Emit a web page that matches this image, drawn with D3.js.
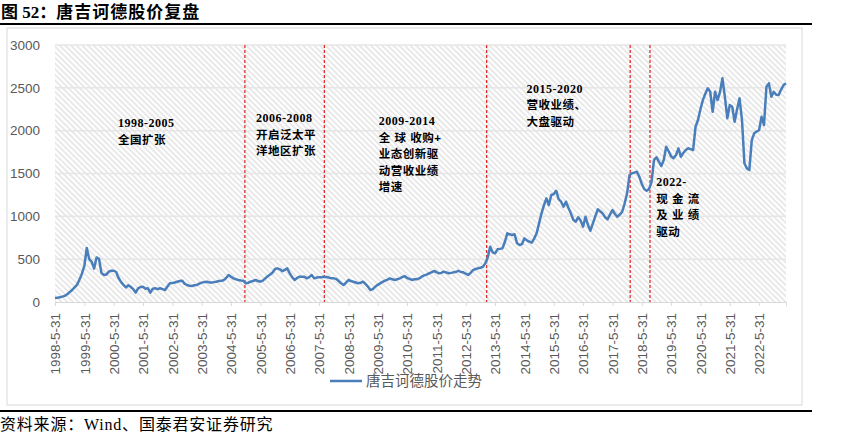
<!DOCTYPE html>
<html>
<head>
<meta charset="utf-8">
<script src="https://cdn.jsdelivr.net/npm/d3@7"></script>
<style>
  body { margin: 0; background: #fff; }
  svg { display: block; }
</style>
</head>
<body>
<svg id="chart" width="850" height="447"></svg>
<script>
// monthly close, starting 1998-05-31, one row per year (May..Apr)
var startYear = 1998,
    startMonth = 5;

var prices = [
    48, 50, 56, 63, 72, 90, 115, 140, 170, 200, 260, 330,
    420, 630, 500, 470, 390, 520, 505, 340, 315, 320, 355, 365,
    365, 350, 280, 235, 200, 170, 195, 175, 150, 110, 160, 175,
    178, 155, 160, 110, 155, 160, 150, 160, 150, 140, 180, 218,
    222, 228, 237, 245, 249, 215, 198, 190, 187, 195, 198, 215,
    226, 232, 237, 230, 226, 232, 237, 245, 249, 255, 280, 315,
    295, 276, 265, 257, 250, 249, 218, 225, 237, 245, 257, 245,
    237, 250, 276, 300, 320, 345, 385, 393, 381, 360, 375, 393,
    335, 290, 257, 280, 295, 295, 295, 276, 290, 315, 276, 285,
    288, 290, 295, 292, 285, 276, 276, 270, 245, 218, 198, 225,
    257, 245, 237, 228, 218, 225, 237, 210, 179, 140, 150, 179,
    200, 218, 235, 249, 262, 276, 265, 257, 265, 276, 290, 303,
    280, 270, 257, 265, 265, 275, 295, 310, 320, 335, 345, 362,
    350, 335, 340, 354, 345, 335, 340, 346, 350, 365, 350, 346,
    330, 315, 340, 373, 385, 393, 400, 410, 451, 520, 646, 580,
    568, 615, 620, 626, 700, 802, 790, 782, 790, 685, 665, 675,
    743, 720, 704, 692, 740, 802, 918, 1035, 1130, 1210, 1132, 1249,
    1260, 1299, 1200, 1171, 1112, 1171, 1100, 1035, 960, 937, 988, 950,
    879, 995, 900, 832, 918, 1000, 1082, 1060, 1035, 990, 965, 1020,
    1074, 1030, 995, 1020, 1054, 1150, 1268, 1482, 1502, 1510, 1521, 1462,
    1380, 1320, 1299, 1320, 1400, 1657, 1690, 1640, 1587, 1657, 1812, 1760,
    1700, 1677, 1715, 1794, 1696, 1740, 1774, 1794, 1785, 1774, 2046, 2124,
    2250, 2357, 2430, 2494, 2454, 2221, 2454, 2357, 2450, 2611, 2396, 2144,
    2299, 2279, 2104, 2250, 2377, 2124, 1619, 1560, 1540, 1890, 1969, 1990,
    2007, 2162, 2066, 2513, 2552, 2396, 2454, 2420, 2416, 2480, 2532, 2552
];

var yTicks = [0, 500, 1000, 1500, 2000, 2500, 3000];

// phase boundaries (red dashed lines)
var dividers = ['2004-11-21', '2007-08-06', '2013-02-18', '2018-01-09', '2018-09-12'];

var phaseLabels = [
    { at: '2000-07-25', value: 2040, lines: ['1998-2005', '全国扩张'] },
    { at: '2005-04-06', value: 2100, lines: ['2006-2008', '开启泛太平', '洋地区扩张'] },
    { at: '2009-06-15', value: 2065, lines: ['2009-2014', '全 球 收购+', '业态创新驱', '动营收业绩', '增速'] },
    { at: '2014-06-28', value: 2440, lines: ['2015-2020', '营收业绩、', '大盘驱动'] },
    { at: '2018-11-30', value: 1354, lines: ['2022-', '现 金 流', '及 业 绩', '驱动'] }
];

var seriesName = '唐吉诃德股价走势',
    titleLabel = '图 52：',
    titleText = '唐吉诃德股价复盘',
    source = '资料来源：Wind、国泰君安证券研究';

var svg = d3.select('#chart'),
    plot = { left: 55, right: 786, top: 45, bottom: 302 },
    blue = '#4a7ebb',
    grey = '#595959',
    serif = '"Liberation Serif", "Noto Sans CJK SC", serif',
    sans = '"Liberation Sans", "Noto Sans CJK SC", sans-serif';

// month index of a date, index 0 == 1998-05-31
var monthIdx = function (s) {
    var p = s.split('-').map(Number);
    return (p[0] - startYear) * 12 + (p[1] - startMonth) + (p[2] - 31) / 30;
};

var x = d3.scaleLinear().domain([0, prices.length - 1]).range([plot.left, plot.right]),
    y = d3.scaleLinear().domain([0, 3000]).range([plot.bottom, plot.top]);

// hatch pattern for the plot background
var defs = svg.append('defs');
defs.append('pattern')
    .attr('id', 'hatch')
    .attr('patternUnits', 'userSpaceOnUse')
    .attr('width', 4).attr('height', 4)
    .attr('patternTransform', 'rotate(-45)')
    .append('line')
    .attr('x1', 2).attr('y1', 0).attr('x2', 2).attr('y2', 4)
    .attr('stroke', '#d2d2d2').attr('stroke-width', 1);

// title and rules
var title = svg.append('text')
    .attr('x', 1).attr('y', 18)
    .attr('font-weight', 'bold').attr('font-size', 17)
    .attr('fill', '#000');
title.append('tspan').attr('font-family', serif).attr('xml:space', 'preserve').text(titleLabel);
title.append('tspan').attr('font-family', sans).attr('letter-spacing', 1).text(titleText);

svg.append('line').attr('x1', 0).attr('x2', 812).attr('y1', 24).attr('y2', 24)
    .attr('stroke', '#000').attr('stroke-width', 2);
svg.append('rect')
    .attr('x', 7).attr('y', 28).attr('width', 795).attr('height', 377)
    .attr('fill', 'none').attr('stroke', '#d9d9d9');
svg.append('line').attr('x1', 0).attr('x2', 812).attr('y1', 411).attr('y2', 411)
    .attr('stroke', '#000').attr('stroke-width', 2);
svg.append('text')
    .attr('x', 0).attr('y', 430)
    .attr('font-family', serif).attr('font-size', 16).attr('letter-spacing', 0.8)
    .attr('fill', '#000')
    .text(source);

// plot background
svg.append('rect')
    .attr('x', plot.left).attr('y', plot.top)
    .attr('width', plot.right - plot.left).attr('height', plot.bottom - plot.top)
    .attr('fill', 'url(#hatch)');

// gridlines
svg.append('g')
    .selectAll('line')
    .data(yTicks.slice(1))
    .enter().append('line')
    .attr('x1', plot.left).attr('x2', plot.right)
    .attr('y1', function (d) { return y(d); })
    .attr('y2', function (d) { return y(d); })
    .attr('stroke', '#e6e6e6').attr('stroke-width', 1.5);

// y axis
var yAxis = svg.append('g')
    .attr('transform', 'translate(' + plot.left + ',0)')
    .call(d3.axisLeft(y).tickValues(yTicks).tickSize(0).tickPadding(15)
        .tickFormat(d3.format('d')));
yAxis.select('.domain').remove();
yAxis.selectAll('text')
    .attr('font-family', sans).attr('font-size', 13.5).attr('fill', grey);

// x axis, a tick every 12 months
var xTickIdx = d3.range(0, prices.length, 12);
var xAxis = svg.append('g')
    .attr('transform', 'translate(0,' + plot.bottom + ')')
    .call(d3.axisBottom(x).tickValues(xTickIdx).tickSize(4)
        .tickFormat(function (d) { return (startYear + d / 12) + '-5-31'; }));
xAxis.select('.domain').attr('stroke', '#d9d9d9');
xAxis.selectAll('.tick line').attr('stroke', '#d9d9d9');
xAxis.selectAll('text')
    .attr('font-family', sans).attr('font-size', 13.5).attr('fill', grey)
    .attr('transform', 'rotate(-90)')
    .attr('text-anchor', 'end')
    .attr('x', -11).attr('y', 0).attr('dy', '0.35em');

// phase dividers
svg.append('g')
    .selectAll('line')
    .data(dividers)
    .enter().append('line')
    .attr('x1', function (d) { return x(monthIdx(d)); })
    .attr('x2', function (d) { return x(monthIdx(d)); })
    .attr('y1', plot.top).attr('y2', plot.bottom)
    .attr('stroke', '#e02020').attr('stroke-width', 1.2)
    .attr('stroke-dasharray', '3,2');

// price line
svg.append('path')
    .datum(prices)
    .attr('fill', 'none')
    .attr('stroke', blue).attr('stroke-width', 2.5)
    .attr('stroke-linejoin', 'round')
    .attr('d', d3.line()
        .x(function (d, i) { return x(i); })
        .y(function (d) { return y(d); }));

// phase annotations
var notes = svg.append('g')
    .selectAll('text')
    .data(phaseLabels)
    .enter().append('text')
    .attr('font-weight', 'bold').attr('font-size', 11.5).attr('fill', '#000')
    .attr('transform', function (d) {
        return 'translate(' + x(monthIdx(d.at)) + ',' + y(d.value) + ')';
    });
notes.selectAll('tspan')
    .data(function (d) { return d.lines; })
    .enter().append('tspan')
    .attr('x', 0)
    .attr('y', function (d, i) { return i * 16.5; })
    .attr('font-family', function (d, i) { return i === 0 ? serif : sans; })
    .attr('font-size', function (d, i) { return i === 0 ? 12 : 11.5; })
    .attr('letter-spacing', 0.5)
    .text(function (d) { return d; });

// legend
var legend = svg.append('g').attr('transform', 'translate(330,381)');
legend.append('line').attr('x1', 0).attr('x2', 32)
    .attr('stroke', blue).attr('stroke-width', 2.5);
legend.append('text')
    .attr('x', 36).attr('y', 5)
    .attr('font-family', serif).attr('font-size', 14.5).attr('fill', grey)
    .text(seriesName);
</script>
</body>
</html>
